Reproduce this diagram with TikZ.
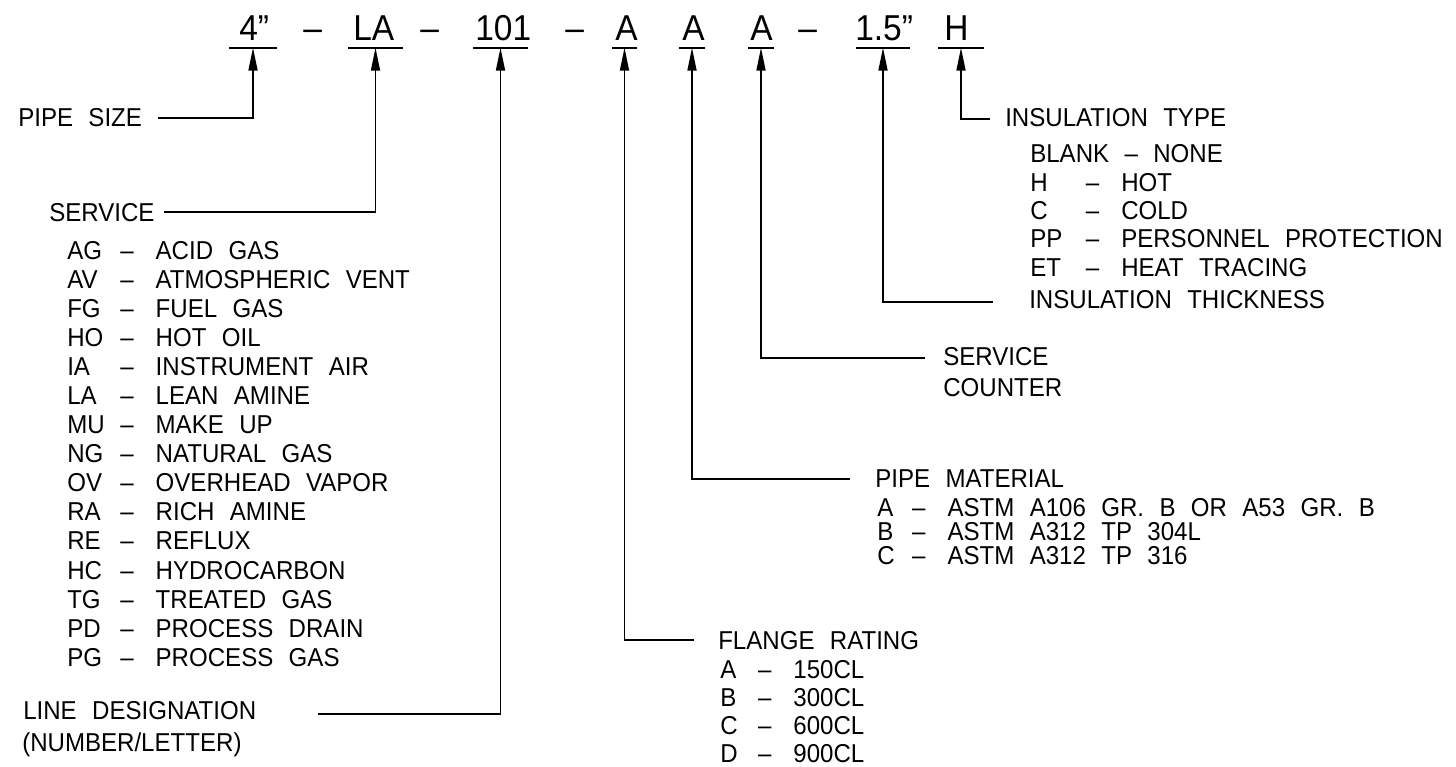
\documentclass[tikz,border=0pt]{standalone}
\usepackage{fontspec}
\setmainfont{Liberation Sans}[WordSpace=2.3, FakeStretch=0.93]
\usetikzlibrary{arrows.meta}

\newcommand{\pxu}{0.025cm}
\newcommand{\lblfont}{\fontsize{18.4pt}{22pt}\selectfont}
\newcommand{\titlefont}{\fontsize{25.6pt}{30pt}\selectfont}
\newcommand{\legentry}[3][2.05em]{\makebox[#1][l]{#2}–\hspace{0.85em}#3}

\begin{document}
\begin{tikzpicture}[x=0.025cm, y=-0.025cm,
  lbl/.style={font=\lblfont, anchor=base west, inner sep=0pt},
  field/.style={font=\titlefont, anchor=base west, inner sep=0pt},
  uline/.style={inner sep=0pt, outer sep=0pt, minimum height=0pt},
  lead/.style={line width=1.2pt},
  ptr/.style={lead, -{Triangle[length=0.575cm, width=0.225cm]}}
]
  \useasboundingbox (0,0) rectangle (1456,767);

  % Line number
  \foreach \n/\tx/\ux/\uw/\t in {sz/239/253/48/4”, sv/353/375.5/55/LA, ln/475/500.5/55/101,
      fl/615/624.5/25/A, mt/682/692/26/A, ct/750/761/26/A, th/855/883/54/1.5”, ty/944/961/46/H} {
    \node[field] (\n) at (\tx,41) {\t};
    \node[uline, minimum width=\uw*\pxu] (\n-u) at (\ux,47.7) {};
    \draw[lead] (\n-u.west) -- (\n-u.east);
  }
  \foreach \n/\x in {d1/303, d2/420, d3/565, d4/798}
    \node[field] (\n) at (\x,41) {–};

  % Left side
  \node[lbl] (psz) at (18,127) {PIPE SIZE};
  \node[lbl] (svc) at (49,222) {SERVICE};
  \foreach \c/\d [count=\i] in {AG/ACID GAS, AV/ATMOSPHERIC VENT, FG/FUEL GAS, HO/HOT OIL,
      IA/INSTRUMENT AIR, LA/LEAN AMINE, MU/MAKE UP, NG/NATURAL GAS, OV/OVERHEAD VAPOR,
      RA/RICH AMINE, RE/REFLUX, HC/HYDROCARBON, TG/TREATED GAS, PD/PROCESS DRAIN, PG/PROCESS GAS}
    \node[lbl] (svc\i) at (67,{231+29*\i}) {\legentry{\c}{\d}};
  \node[lbl] (lnd) at (23,719) {LINE DESIGNATION};
  \node[lbl] (lnd2) at (22,751) {(NUMBER/LETTER)};

  % Right side
  \node[lbl] (fr) at (718,649) {FLANGE RATING};
  \foreach \c/\d [count=\i] in {A/150CL, B/300CL, C/600CL, D/900CL}
    \node[lbl] (fr\i) at (720,{650+28*\i}) {\legentry[1.46em]{\c}{\d}};
  \node[lbl] (pm) at (875,488) {PIPE MATERIAL};
  \foreach \c/\d [count=\i] in {A/ASTM A106 GR. B OR A53 GR. B, B/ASTM A312 TP 304L, C/ASTM A312 TP 316}
    \node[lbl] (pm\i) at (877,{493.5+23.5*\i}) {\legentry[1.35em]{\c}{\d}};
  \node[lbl] (sc) at (943,366) {SERVICE};
  \node[lbl] (sc2) at (943,397) {COUNTER};
  \node[lbl] (it) at (1029,309) {INSULATION THICKNESS};
  \node[lbl] (ity) at (1005,127) {INSULATION TYPE};
  \node[lbl] (ity1) at (1030,163) {BLANK – NONE};
  \foreach \c/\d [count=\i] in {H/HOT, C/COLD, PP/PERSONNEL PROTECTION, ET/HEAT TRACING}
    \node[lbl] (ity\i) at (1030,{163+28.3*\i}) {\legentry[2.15em]{\c}{\d}};

  % Leaders
  \coordinate (pszL) at (158,118);
  \coordinate (svcL) at (164,212);
  \coordinate (lndL) at (318,714);
  \coordinate (frL) at (694,640);
  \coordinate (pmL) at (850,479);
  \coordinate (scL) at (925,358);
  \coordinate (itL) at (993,302);
  \coordinate (ityL) at (990,119);
  \draw[ptr] (pszL) -| (sz-u.south);
  \draw[ptr] (svcL) -| (sv-u.south);
  \draw[ptr] (lndL) -| (ln-u.south);
  \draw[ptr] (frL) -| (fl-u.south);
  \draw[ptr] (pmL) -| (mt-u.south);
  \draw[ptr] (scL) -| (ct-u.south);
  \draw[ptr] (itL) -| (th-u.south);
  \draw[ptr] (ityL) -| (ty-u.south);
\end{tikzpicture}
\end{document}
